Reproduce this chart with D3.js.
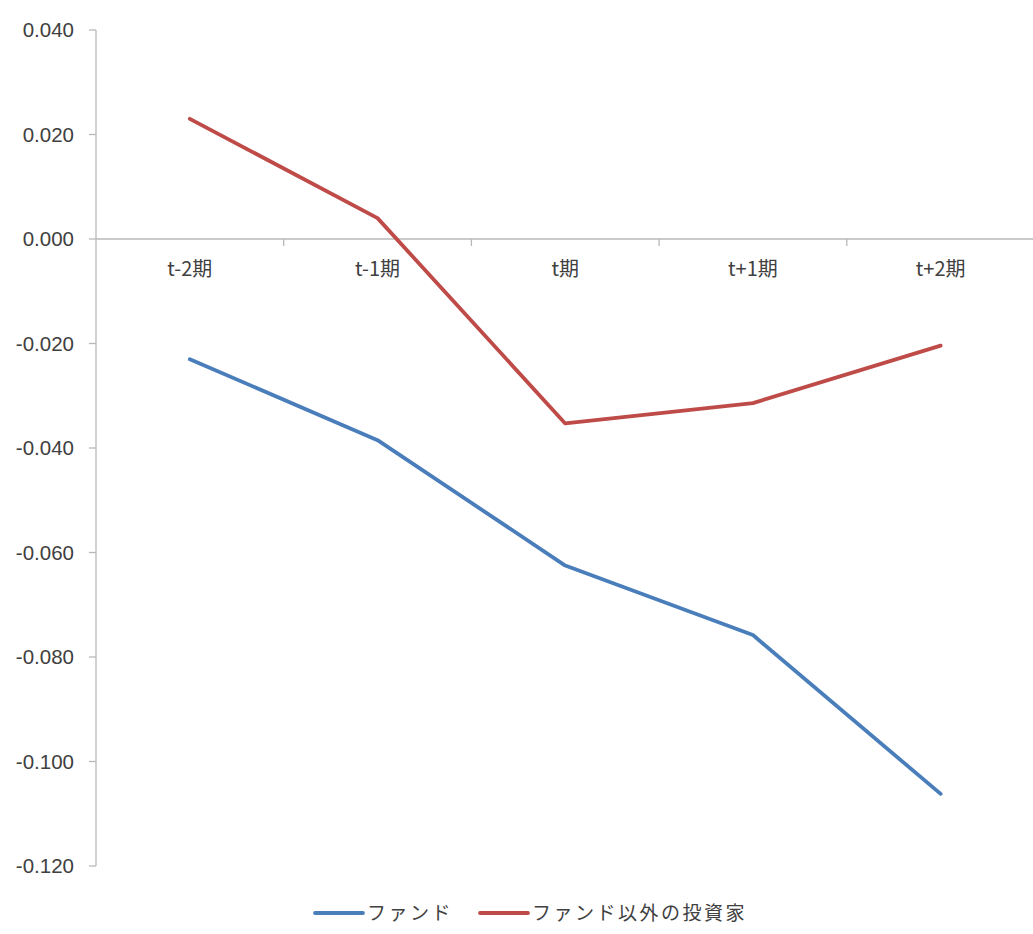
<!DOCTYPE html>
<html>
<head>
<meta charset="utf-8">
<script src="https://cdn.jsdelivr.net/npm/d3@7"></script>
<style>
  html, body { margin: 0; padding: 0; background: #fff; }
  svg { display: block; }
  text { font-family: "Noto Sans CJK JP", "Noto Sans", sans-serif; fill: #404040; }
</style>
</head>
<body>
<svg id="chart" width="1033" height="934"></svg>
<script>
// Periods around event t
const categories = ["t-2期", "t-1期", "t期", "t+1期", "t+2期"];
const seriesNames = ["ファンド", "ファンド以外の投資家"];
const fundValues = [-0.0230, -0.0385, -0.0625, -0.0758, -0.1062];
const otherValues = [0.0230, 0.0040, -0.0353, -0.0314, -0.0204];
const yTicks = [0.04, 0.02, 0.0, -0.02, -0.04, -0.06, -0.08, -0.10, -0.12];
const colors = ["#4a7ebb", "#be4b48"];

const svg = d3.select("#chart");
const axisColor = "#b8b8b8";

const x = d3.scaleBand().domain(categories).range([96, 1034.5]);
const y = d3.scaleLinear().domain([-0.12, 0.04]).range([866, 30]);
const cx = d => x(d) + x.bandwidth() / 2;

// Vertical value axis
svg.append("line")
  .attr("x1", 96).attr("x2", 96)
  .attr("y1", y(0.04)).attr("y2", y(-0.12))
  .attr("stroke", axisColor).attr("stroke-width", 1.3);

svg.selectAll(".ytick").data(yTicks).enter().append("line")
  .attr("x1", 89).attr("x2", 96)
  .attr("y1", d => y(d)).attr("y2", d => y(d))
  .attr("stroke", axisColor).attr("stroke-width", 1.3);

svg.selectAll(".ylabel").data(yTicks).enter().append("text")
  .attr("x", 74).attr("y", d => y(d))
  .attr("dy", "0.35em")
  .attr("text-anchor", "end")
  .style("font-size", "20.5px")
  .style("font-family", "'Liberation Sans', sans-serif")
  .text(d => d3.format(".3f")(d).replace("−", "-"));

// Horizontal category axis at zero
svg.append("line")
  .attr("x1", 96).attr("x2", 1033)
  .attr("y1", y(0)).attr("y2", y(0))
  .attr("stroke", axisColor).attr("stroke-width", 1.3);

svg.selectAll(".xtick").data(categories.slice(1)).enter().append("line")
  .attr("x1", d => x(d)).attr("x2", d => x(d))
  .attr("y1", y(0)).attr("y2", y(0) + 7)
  .attr("stroke", axisColor).attr("stroke-width", 1.3);

svg.selectAll(".xlabel").data(categories).enter().append("text")
  .attr("x", d => cx(d)).attr("y", y(0) + 30)
  .attr("dy", "0.35em")
  .attr("text-anchor", "middle")
  .style("font-size", "20px")
  .text(d => d);

// Series lines
const line = d3.line().x(d => cx(d.cat)).y(d => y(d.v));
[fundValues, otherValues].forEach((vals, i) => {
  svg.append("path")
    .datum(categories.map((c, k) => ({ cat: c, v: vals[k] })))
    .attr("d", line)
    .attr("fill", "none")
    .attr("stroke", colors[i])
    .attr("stroke-width", 3.8)
    .attr("stroke-linejoin", "round")
    .attr("stroke-linecap", "round");
});

// Legend
const legendX = [315, 480];
seriesNames.forEach((name, i) => {
  const g = svg.append("g").attr("transform", `translate(${legendX[i]},913)`);
  g.append("line").attr("x1", 0).attr("x2", 48)
    .attr("stroke", colors[i]).attr("stroke-width", 3.8).attr("stroke-linecap", "round");
  g.append("text").attr("x", 52).attr("dy", "0.35em")
    .style("font-size", "19px")
    .style("letter-spacing", "2.5px")
    .text(name);
});
</script>
</body>
</html>
